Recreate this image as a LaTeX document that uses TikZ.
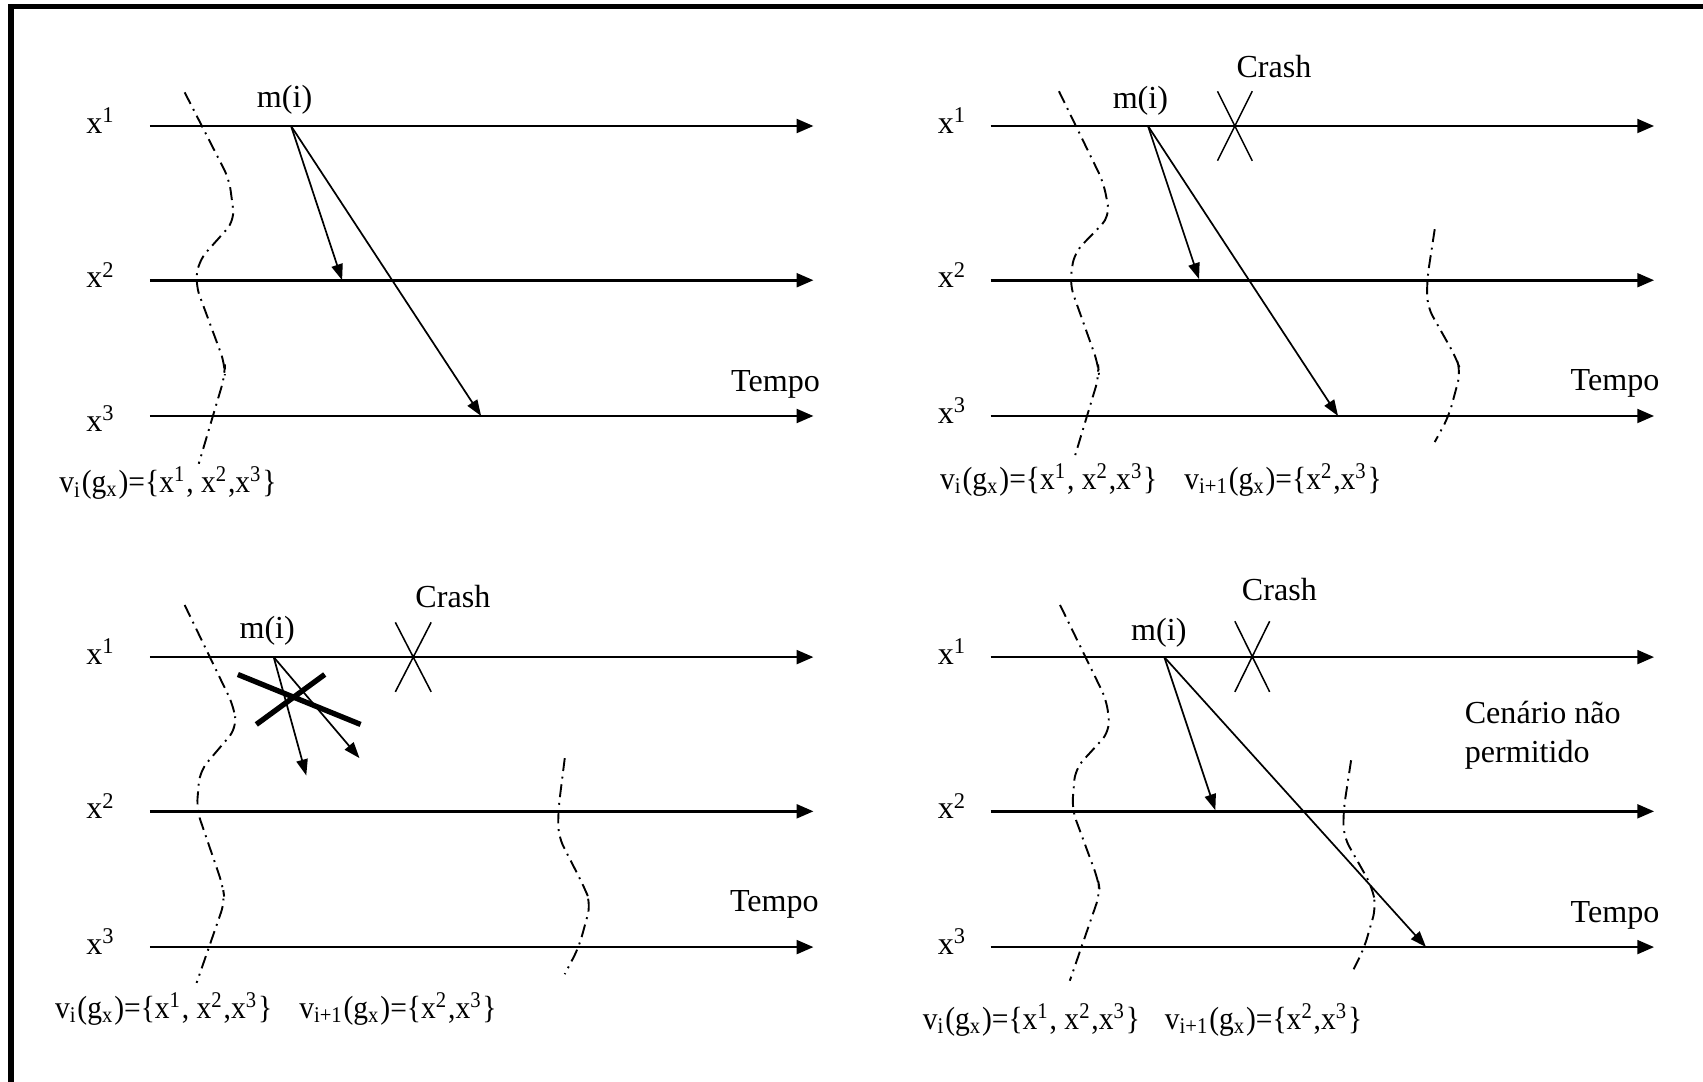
\documentclass[tikz,border=0pt]{standalone}
\usepackage{fontspec}
\setmainfont{Liberation Serif}
\newfontfamily\viewfont[FakeStretch=0.92]{Liberation Serif}
\usetikzlibrary{arrows.meta}

\newcommand{\vsetall}{\viewfont v\textsubscript{i}(g\textsubscript{x})=\{x\textsuperscript{1}, x\textsuperscript{2},x\textsuperscript{3}\}}
\newcommand{\vsetnext}{\viewfont v\textsubscript{i+1}(g\textsubscript{x})=\{x\textsuperscript{2},x\textsuperscript{3}\}}

\begin{document}
\begin{tikzpicture}[x=0.01cm, y=-0.01cm, every node/.style={font=\fontsize{8.4}{10}\selectfont, inner sep=0pt}, tl/.style={line width=0.7pt, -{Triangle[length=4.4pt, width=3.6pt]}}, msg/.style={line width=0.45pt, -{Triangle[length=4.2pt, width=3pt]}}, cut/.style={line width=0.5pt, rounded corners=3pt, dash pattern=on 3.4pt off 1.5pt on 0.5pt off 1.5pt}, kill/.style={line width=0.4pt}, veto/.style={line width=1.4pt}]
	\useasboundingbox (0,0) rectangle (1568,996);
	\draw[line width=1.5pt] (10,996) |- (1568,6);
	\foreach \p/\x/\y/\lx/\low in {a/138/116/93/7, b/912/116/877/0, c/138/605/93/0, d/912/605/877/0} {
		\foreach \k/\dy in {1/0, 2/142, 3/267} {
			\coordinate (\p s\k) at (\x,\y+\dy);
			\coordinate (\p e\k) at (\x+611,\y+\dy);
			\draw[tl] (\p s\k) -- (\p e\k);
			\ifnum\k=3
				\node[anchor=base] (\p x\k) at (\lx,\y+\dy+7+\low) {x\textsuperscript{\k}};
			\else
				\node[anchor=base] (\p x\k) at (\lx,\y+\dy+7) {x\textsuperscript{\k}};
			\fi
		}
	}
	% top left
	\coordinate (am) at (268,116);
	\coordinate (at2) at (315,258);
	\coordinate (at3) at (443,383);
	\draw[msg] (am) -- (at2);
	\draw[msg] (am) -- (at3);
	\node (ami) at (262,92) {m(i)};
	\draw[cut] (170,85) -- (211,165) -- (216,203) -- (183,240) -- (180,262) -- (207,335) -- (207,346) -- (183,427);
	\node (atempo) at (714,354) {Tempo};
	\node[anchor=west] (av1) at (54,445) {\vsetall};
	% top right
	\coordinate (bm) at (1057,116);
	\coordinate (bt2) at (1104,257);
	\coordinate (bt3) at (1232,383);
	\draw[msg] (bm) -- (bt2);
	\draw[msg] (bm) -- (bt3);
	\node (bmi) at (1050,93) {m(i)};
	\draw[kill] (1121,84) -- (1153,148) (1153,84) -- (1121,148);
	\node (bcrash) at (1173,61) {Crash};
	\draw[cut] (975,84) -- (1016,168) -- (1022,199) -- (989,233) -- (985,262) -- (1011,335) -- (1012,346) -- (990,419);
	\draw[cut] (1321,211) -- (1314,257) -- (1314,282) -- (1341,330) -- (1345,342) -- (1334,383) -- (1321,407);
	\node (btempo) at (1487,353) {Tempo};
	\node[anchor=west] (bv1) at (865,442) {\vsetall};
	\node[anchor=east] (bv2) at (1273,442) {\vsetnext};
	% bottom left
	\coordinate (cm) at (252,605);
	\coordinate (ct2) at (282,714);
	\coordinate (ct3) at (331,698);
	\draw[msg] (cm) -- (ct2);
	\draw[msg] (cm) -- (ct3);
	\node (cmi) at (246,581) {m(i)};
	\draw[veto] (219,621) -- (332,667) (236,667) -- (299,621);
	\draw[kill] (364,573) -- (397,637) (397,573) -- (364,637);
	\node (ccrash) at (417,549) {Crash};
	\draw[cut] (170,557) -- (215,650) -- (218,670) -- (184,710) -- (181,745) -- (205,815) -- (207,830) -- (181,905);
	\draw[cut] (520,698) -- (514,746) -- (514,770) -- (538,817) -- (544,832) -- (533,872) -- (520,897);
	\node (ctempo) at (713,833) {Tempo};
	\node[anchor=west] (cv1) at (50,929) {\vsetall};
	\node[anchor=east] (cv2) at (458,929) {\vsetnext};
	% bottom right
	\coordinate (dm) at (1072,605);
	\coordinate (dt2) at (1119,746);
	\coordinate (dt3) at (1313,872);
	\draw[msg] (dm) -- (dt2);
	\draw[msg] (dm) -- (dt3);
	\node (dmi) at (1067,583) {m(i)};
	\draw[kill] (1137,572) -- (1169,637) (1169,572) -- (1137,637);
	\node (dcrash) at (1178,543) {Crash};
	\draw[cut] (976,557) -- (1019,645) -- (1022,673) -- (990,708) -- (987,745) -- (1011,810) -- (1013,822) -- (985,903);
	\draw[cut] (1244,700) -- (1237,746) -- (1237,770) -- (1263,816) -- (1267,835) -- (1256,873) -- (1245,895);
	\node[anchor=west, align=left] (dnote) at (1348,677) {Cenário não\\permitido};
	\node (dtempo) at (1487,843) {Tempo};
	\node[anchor=west] (dv1) at (849,939) {\vsetall};
	\node[anchor=east] (dv2) at (1255,939) {\vsetnext};
\end{tikzpicture}
\end{document}
